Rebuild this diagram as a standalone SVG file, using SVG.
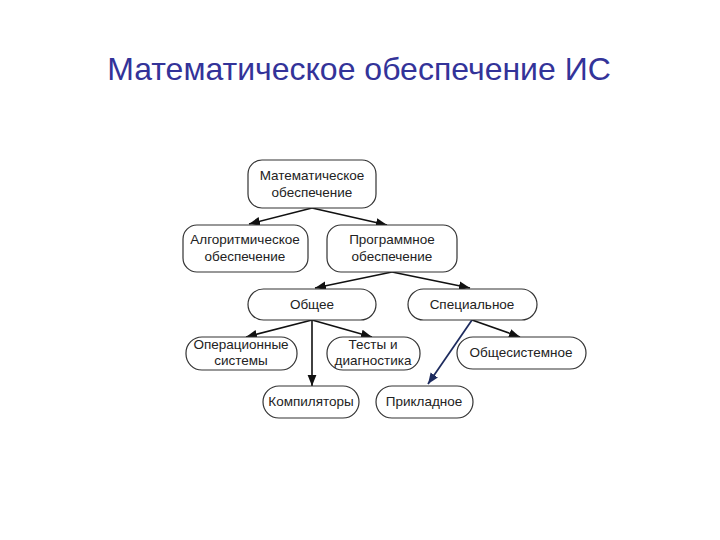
<svg xmlns="http://www.w3.org/2000/svg" width="720" height="540" viewBox="0 0 720 540">
<style>
.title{font-family:"Liberation Sans",Arial,sans-serif;font-size:32px;fill:#333399;text-anchor:middle}
.box{fill:#fff;stroke:#333;stroke-width:1.2}
.t{font-family:"Liberation Sans",Arial,sans-serif;font-size:13.5px;fill:#222;text-anchor:middle}
.c{stroke:#111;stroke-width:1.6;fill:none}
</style>
<defs>
<marker id="ah" viewBox="0 0 10 10" refX="10" refY="5" markerWidth="11" markerHeight="11" orient="auto" markerUnits="userSpaceOnUse">
<path d="M0,1 L10,5 L0,9 z" fill="#111"/>
</marker>
<marker id="ahb" viewBox="0 0 10 10" refX="10" refY="5" markerWidth="11" markerHeight="11" orient="auto" markerUnits="userSpaceOnUse">
<path d="M0,1 L10,5 L0,9 z" fill="#1d2b5e"/>
</marker>
</defs>
<rect width="720" height="540" fill="#fff"/>
<text class="title" x="359" y="80">Математическое обеспечение ИС</text>

<g id="connectors">
<path class="c" d="M312,208 L249,224" marker-end="url(#ah)"/>
<path class="c" d="M312,208 L387,225" marker-end="url(#ah)"/>
<path class="c" d="M392,272 L315,288" marker-end="url(#ah)"/>
<path class="c" d="M392,272 L470,288" marker-end="url(#ah)"/>
<path class="c" d="M312,320 L246,337" marker-end="url(#ah)"/>
<path class="c" d="M312,320 L372,337" marker-end="url(#ah)"/>
<path class="c" d="M312,320 L312,386" marker-end="url(#ah)"/>
<path class="c" d="M472,320 L520,337" marker-end="url(#ah)"/>
<path d="M472,320 L428,384" stroke="#1d2b5e" stroke-width="1.8" fill="none" marker-end="url(#ahb)"/>
</g>

<g id="n-math">
<rect class="box" x="248" y="160" width="128" height="48" rx="14"/>
<text class="t" x="312" y="180">Математическое</text>
<text class="t" x="312" y="197">обеспечение</text>
</g>
<g id="n-algo">
<rect class="box" x="183" y="225" width="125" height="47" rx="14"/>
<text class="t" x="245" y="244">Алгоритмическое</text>
<text class="t" x="245" y="261">обеспечение</text>
</g>
<g id="n-prog">
<rect class="box" x="327" y="225" width="130" height="47" rx="14"/>
<text class="t" x="392" y="244">Программное</text>
<text class="t" x="392" y="261">обеспечение</text>
</g>
<g id="n-common">
<rect class="box" x="248" y="289" width="128" height="31" rx="15.5"/>
<text class="t" x="312" y="309">Общее</text>
</g>
<g id="n-special">
<rect class="box" x="408" y="289" width="129" height="31" rx="15.5"/>
<text class="t" x="472" y="309">Специальное</text>
</g>
<g id="n-os">
<rect class="box" x="186" y="337" width="111" height="33" rx="16"/>
<text class="t" x="241" y="349">Операционные</text>
<text class="t" x="241" y="365">системы</text>
</g>
<g id="n-tests">
<rect class="box" x="327" y="337" width="93" height="33" rx="16"/>
<text class="t" x="373" y="349">Тесты и</text>
<text class="t" x="373" y="365">диагностика</text>
</g>
<g id="n-sys">
<rect class="box" x="457" y="337" width="129" height="32" rx="16"/>
<text class="t" x="521" y="357">Общесистемное</text>
</g>
<g id="n-comp">
<rect class="box" x="263" y="386" width="96" height="32" rx="16"/>
<text class="t" x="311" y="406">Компиляторы</text>
</g>
<g id="n-appl">
<rect class="box" x="376" y="386" width="97" height="32" rx="16"/>
<text class="t" x="424" y="406">Прикладное</text>
</g>
</svg>
